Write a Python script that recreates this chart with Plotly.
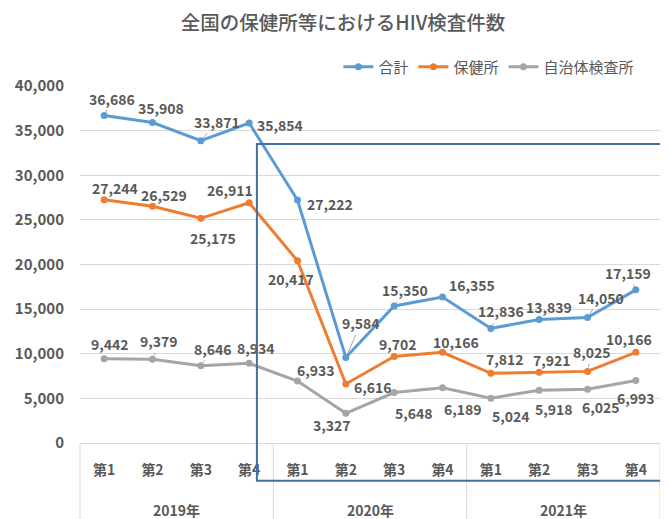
import plotly.graph_objects as go

years = ["2019年", "2020年", "2021年"]
quarters = ["第1", "第2", "第3", "第4"]
categories = [f"{y}{q}" for y in years for q in quarters]
tick_labels = quarters * 3

total = [36686, 35908, 33871, 35854, 27222, 9584, 15350, 16355, 12836, 13839, 14050, 17159]
hokenjo = [27244, 26529, 25175, 26911, 20417, 6616, 9702, 10166, 7812, 7921, 8025, 10166]
jichitai = [9442, 9379, 8646, 8934, 6933, 3327, 5648, 6189, 5024, 5918, 6025, 6993]

# label offsets (dx, dy) in pixels from each point (dy positive = downward)
off_total = [(8, -17), (8, -15), (16, -19), (31, 2), (32, 4), (15, -34),
             (11, -16), (29, -12), (10, -17), (10, -12), (13, -20), (-8, -17)]
off_hokenjo = [(11, -12), (11, -11), (12, 20), (-19, -13), (-7, 18), (27, 3),
               (4, -12), (13, -10), (14, -14), (13, -12), (4, -19), (-7, -13)]
off_jichitai = [(6, -15), (6, -18), (12, -17), (7, -15), (18, -11), (-14, 12),
                (20, 20), (20, 21), (20, 18), (15, 19), (13, 18), (0, 17)]
# labels drawn with a thin leader line
lead_total = [0, 2, 5, 6, 8, 10, 11]
lead_hokenjo = [10]
lead_jichitai = [1, 2]

FONT = "Noto Sans CJK JP"
TXT = "#595959"
series = [("合計", total, "#5B9BD5", off_total, lead_total),
          ("保健所", hokenjo, "#ED7D31", off_hokenjo, lead_hokenjo),
          ("自治体検査所", jichitai, "#A5A5A5", off_jichitai, lead_jichitai)]

fig = go.Figure()
annotations = []
for name, vals, color, offs, leads in series:
    fig.add_trace(go.Scatter(
        x=categories, y=vals, name=name,
        mode="lines+markers",
        line=dict(color=color, width=3),
        marker=dict(color=color, size=7),
        cliponaxis=False,
    ))
    for i, (c, v, (dx, dy)) in enumerate(zip(categories, vals, offs)):
        font = dict(family=FONT, size=14, color=TXT, weight="bold")
        if i in leads:
            annotations.append(dict(
                x=c, y=v, xref="x", yref="y", text=f"{v:,}", showarrow=True,
                ax=dx, ay=dy, axref="pixel", ayref="pixel",
                arrowhead=0, arrowwidth=1, arrowcolor="#A6A6A6", standoff=4,
                xanchor="center", yanchor="middle", font=font,
            ))
        else:
            annotations.append(dict(
                x=c, y=v, xref="x", yref="y", text=f"{v:,}", showarrow=False,
                xshift=dx, yshift=-dy, xanchor="center", yanchor="middle", font=font,
            ))

# year labels (outer category level)
for k, y in enumerate(years):
    annotations.append(dict(
        x=(2 * k + 1) / 6, y=-0.188, xref="paper", yref="paper", text=y,
        showarrow=False, xanchor="center", yanchor="middle",
        font=dict(family=FONT, size=14, color=TXT, weight="bold"),
    ))

shapes = []
# dividers between year groups
for k in range(4):
    shapes.append(dict(type="line", xref="paper", yref="paper",
                       x0=k / 3, x1=k / 3, y0=0, y1=-0.22,
                       line=dict(color="#D9D9D9", width=1)))
# highlight rectangle
shapes.append(dict(type="rect", xref="paper", yref="paper",
                   x0=0.305, x1=1.003, y0=-0.106, y1=0.8375,
                   line=dict(color="#41719C", width=2),
                   fillcolor="rgba(0,0,0,0)", layer="above"))

fig.update_layout(
    width=668, height=519,
    margin=dict(l=72, r=16, t=78, b=84, autoexpand=False),
    paper_bgcolor="white", plot_bgcolor="white",
    font=dict(family=FONT, color=TXT),
    title=dict(text="全国の保健所等におけるHIV検査件数", x=0.5015, xanchor="center",
               y=0.971, yanchor="middle",
               font=dict(size=19.5, color=TXT, family=FONT, weight=500)),
    legend=dict(orientation="h", x=0.705, xanchor="center", y=1.053, yanchor="middle",
                font=dict(size=15, color=TXT, family=FONT),
                itemwidth=30, traceorder="normal", tracegroupgap=0),
    showlegend=True,
    annotations=annotations,
    shapes=shapes,
)
fig.update_yaxes(range=[0, 40000], dtick=5000, tickformat=",d",
                 showgrid=True, gridcolor="#D9D9D9", gridwidth=1,
                 zeroline=True, zerolinecolor="#D9D9D9", zerolinewidth=1,
                 showline=False, ticks="", ticklabelstandoff=15, automargin=False,
                 tickfont=dict(size=15, color=TXT, family=FONT, weight="bold"))
fig.update_xaxes(type="category", categoryorder="array", categoryarray=categories,
                 range=[-0.5, 11.5],
                 tickmode="array", tickvals=categories, ticktext=tick_labels,
                 showgrid=False, showline=False, ticks="", automargin=False,
                 ticklabelstandoff=17,
                 tickfont=dict(size=14, color=TXT, family=FONT, weight="bold"))

fig.write_html("out.html")
